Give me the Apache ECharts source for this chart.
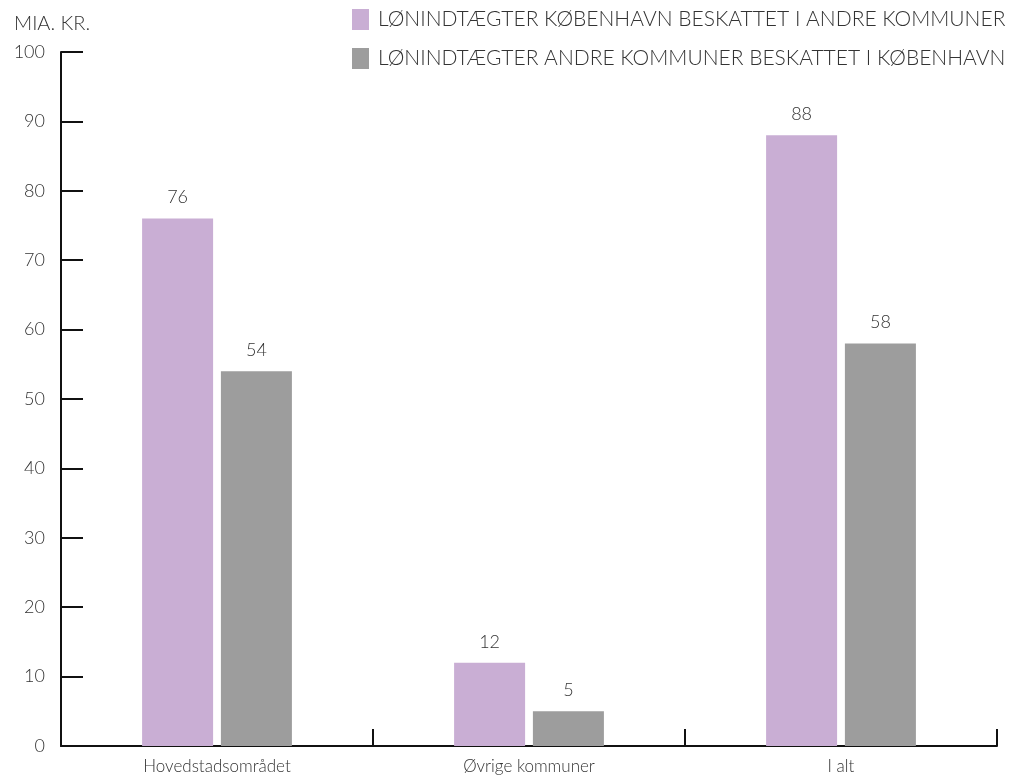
<!DOCTYPE html>
<html><head><meta charset="utf-8">
<script src="https://cdn.jsdelivr.net/npm/echarts@6/dist/echarts.min.js"></script>
<style>html,body{margin:0;padding:0;background:#fff}#c{width:1022px;height:778px}</style>
</head><body><div id="c"></div>
<script>
const categories = ['Hovedstadsområdet', 'Øvrige kommuner', 'I alt'];
const seriesNames = ['LØNINDTÆGTER KØBENHAVN BESKATTET I ANDRE KOMMUNER', 'LØNINDTÆGTER ANDRE KOMMUNER BESKATTET I KØBENHAVN'];
const kbhOut = [76, 12, 88];
const othersIn = [54, 5, 58];
const yTitle = 'MIA. KR.';

const font = 'Lato';
const chart = echarts.init(document.getElementById('c'));
chart.setOption({
  animation: false,
  textStyle: { fontFamily: font, color: '#333' },
  grid: { left: 61, right: 25, top: 52, bottom: 32, containLabel: false },
  title: { text: yTitle, left: 9, top: 9, textStyle: { fontFamily: font, fontWeight: 300, fontSize: 20, color: '#333' } },
  legend: {
    orient: 'vertical', left: 347, top: 4, itemWidth: 17, itemHeight: 21, itemGap: 18,
    icon: 'rect',
    textStyle: { fontFamily: font, fontWeight: 300, fontSize: 21, color: '#333', padding: [0, 0, 0, 4] },
    data: seriesNames
  },
  xAxis: {
    type: 'category', data: categories,
    axisLine: { show: true, lineStyle: { color: '#111', width: 2 } },
    axisTick: { show: true, inside: true, length: 17, lineStyle: { color: '#111', width: 2 } },
    axisLabel: { fontFamily: font, fontWeight: 300, fontSize: 17, color: '#333', margin: 12 }
  },
  yAxis: {
    type: 'value', position: 'left', min: 0, max: 100, interval: 10,
    splitLine: { show: false },
    axisLine: { show: true, lineStyle: { color: '#111', width: 2 } },
    axisTick: { show: true, inside: true, length: 22, lineStyle: { color: '#111', width: 2 } },
    axisLabel: { show: true, fontFamily: font, fontWeight: 300, fontSize: 18, color: '#333', margin: 16 }
  },
  series: [
    { name: seriesNames[0], type: 'bar', data: kbhOut, barWidth: 71, barGap: '11%',
      itemStyle: { color: '#C9AED4' },
      label: { show: true, position: 'top', distance: 12, fontFamily: font, fontWeight: 300, fontSize: 18, color: '#333' } },
    { name: seriesNames[1], type: 'bar', data: othersIn, barWidth: 71,
      itemStyle: { color: '#9D9D9D' },
      label: { show: true, position: 'top', distance: 12, fontFamily: font, fontWeight: 300, fontSize: 18, color: '#333' } }
  ]
});
</script></body></html>
